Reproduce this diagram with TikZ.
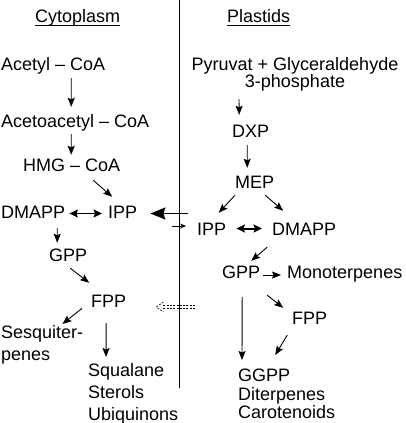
\documentclass[tikz,border=0pt]{standalone}
\usepackage{fontspec}
\setmainfont{Liberation Sans}
\usetikzlibrary{arrows.meta,calc}

\begin{document}
\begin{tikzpicture}[x=1pt, y=-1pt, >={Stealth[length=9pt,width=7pt,inset=1.5pt]}, font=\fontsize{18}{22}\selectfont]
        % Styles
        \tikzstyle{mol} = [inner sep=0pt, anchor=base west, text height=13pt, text depth=4pt]
        \tikzstyle{list} = [inner sep=0pt, anchor=north west, align=left]
        \tikzstyle{conv} = [->, line width=0.9pt]
        \tikzstyle{swap} = [{Stealth[length=8.5pt,width=8pt,inset=1.5pt]}-{Stealth[length=8.5pt,width=8pt,inset=1.5pt]}]
        \tikzstyle{dashline} = [line width=0.6pt, dash pattern=on 2pt off 1.3pt]

        \useasboundingbox (0,0) rectangle (405,423);

        % Membrane
        \draw[line width=0.8pt] (179,0) -- (179,388);

        % Titles
        \node[mol] (cyto) at (35,22) {Cytoplasm};
        \node[mol] (plast) at (227,22) {Plastids};
        \draw[line width=0.7pt] ($(cyto.base west)+(0,3)$) -- ($(cyto.base east)+(0,3)$);
        \draw[line width=0.7pt] ($(plast.base west)+(0,3)$) -- ($(plast.base east)+(0,3)$);

        % Cytoplasm
        \node[mol] (acetyl) at (1,70) {Acetyl – CoA};
        \node[mol] (acetoacetyl) at (1,127) {Acetoacetyl – CoA};
        \node[mol] (hmg) at (23,171) {HMG – CoA};
        \node[mol] (dmappC) at (1,218) {DMAPP};
        \node[mol] (ippC) at (108,218) {IPP};
        \node[mol] (gppC) at (49,261) {GPP};
        \node[mol] (fppC) at (91,307) {FPP};
        \node[list] (sesq) at (1,325) {Sesquiter-\\penes};
        \node[list] (squal) at (88,363) {Squalane\\Sterols\\Ubiquinons};

        % Plastids
        \node[inner sep=0pt, anchor=north, align=center] (pyr) at (295,57) {Pyruvat + Glyceraldehyde\\[-5pt]3-phosphate};
        \node[mol] (dxp) at (232,137) {DXP};
        \node[mol] (mep) at (235,188) {MEP};
        \node[mol] (ippP) at (197,235) {IPP};
        \node[mol] (dmappP) at (272,235) {DMAPP};
        \node[mol] (gppP) at (222,278) {GPP};
        \node[mol] (mono) at (287,278) {Monoterpenes};
        \node[mol] (fppP) at (292,324) {FPP};
        \node[list, font=\fontsize{18}{18.5}\selectfont] (ggpp) at (238,369) {GGPP\\Diterpenes\\Carotenoids};

        % Free ends
        \coordinate (inflow) at (172,226);
        \coordinate (export) at (195,307);

        % Mevalonate pathway
        \draw[conv] ($(acetyl.south)+(18,4)$) -- ($(acetoacetyl.north)+(-4,-7)$);
        \draw[conv] ($(acetoacetyl.south)+(-4,3)$) -- ($(hmg.north)+(-0.5,-3)$);
        \draw[conv] ($(hmg.south)+(21.5,5)$) -- ($(ippC.north)+(-10.5,-8)$);
        \draw[swap, line width=1.2pt] ([xshift=4pt]dmappC.east) -- ([xshift=-6pt]ippC.west);
        \draw[conv] ($(dmappC.south)+(24,6)$) -- ($(gppC.north)+(-11,-5)$);
        \draw[conv] ($(gppC.south)+(2,3)$) -- ($(fppC.north)+(-19.5,-11)$);
        \draw[conv] ($(fppC.south)+(-26.5,-3)$) -- ($(sesq.north east)+(-21,-1)$);
        \draw[conv] ($(fppC.south)+(-2.5,12)$) -- ($(squal.north west)+(18,-6)$);

        % MEP pathway
        \draw[conv] ($(pyr.south)+(-56,8)$) -- ($(dxp.north)+(-11.5,-9)$);
        \draw[conv] ($(dxp.south)+(-3.5,4)$) -- ($(mep.north)+(-7.5,-7)$);
        \draw[conv] ($(mep.south west)+(0,3)$) -- ($(ippP.north)+(7,-9)$);
        \draw[conv] ($(mep.south)+(10.5,3)$) -- ($(dmappP.north)+(-21,-11)$);
        \draw[swap, line width=2pt] ($(ippP.east)+(10,-2)$) -- ($(dmappP.west)+(-10,-2)$);
        \draw[conv] ($(dmappP.south)+(-37,8)$) -- ($(gppP.north)+(10,-4)$);
        \draw[conv] ($(gppP.east)+(3,1.5)$) -- ($(mono.west)+(-6,1.5)$);
        \draw[conv] ($(gppP.south)+(26,13)$) -- ($(fppP.north)+(-26.5,-3)$);
        \draw[conv] ($(fppP.south)+(-22.5,7)$) -- ($(ggpp.north)+(-11.5,-14)$);
        \draw[conv] ($(gppP.south)+(1,15)$) -- ($(ggpp.north west)+(4,-9)$);

        % Exchange across the membrane
        \draw[-{Stealth[length=15pt,width=12pt,inset=2pt]}, line width=1.6pt] ($(ippC.east)+(51,0)$) -- ($(ippC.east)+(13,0)$);
        \draw[-{Stealth[length=6pt,width=5pt]}, line width=0.7pt] (inflow) -- ($(ippP.west)+(-11,-4.5)$);
        \draw[dashline] ($(export)+(0,-1.4)$) -- ($(fppC.east)+(36,3.1)$);
        \draw[dashline] ($(export)+(0,1.4)$) -- ($(fppC.east)+(36,5.9)$);
        \draw[dashline] ($(fppC.east)+(37,-0.5)$) -- ($(fppC.east)+(30,4.5)$) -- ($(fppC.east)+(37,9.5)$);

    \end{tikzpicture}
\end{document}
